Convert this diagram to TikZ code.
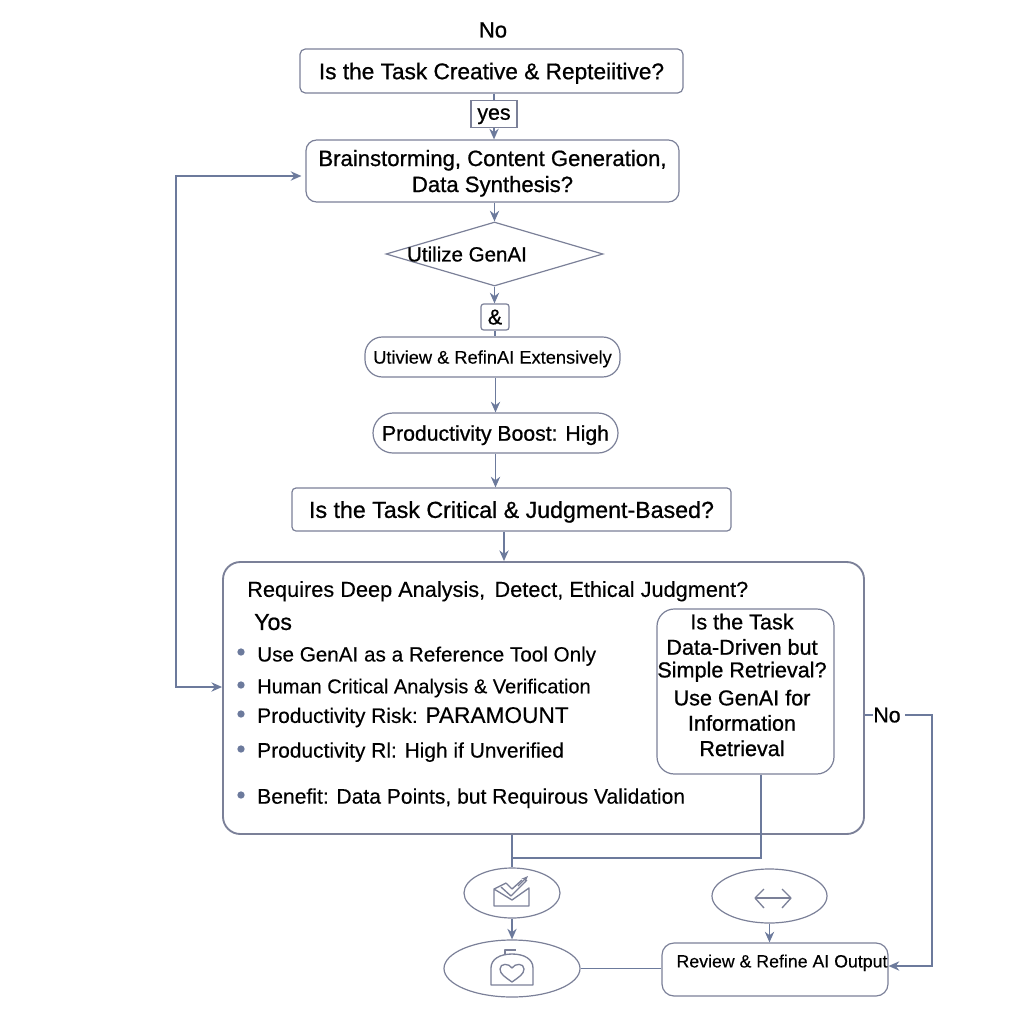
\documentclass[tikz,border=0pt]{standalone}
\usepackage{fontspec}
\setmainfont[FakeBold=0.25]{Liberation Sans}
\newfontfamily\medfont[FakeBold=0.8]{Liberation Sans}
\usetikzlibrary{arrows.meta,shapes.geometric}
\newcommand{\px}{0.75pt}
\definecolor{linecol}{HTML}{6C7A9C}
\definecolor{boxcol}{HTML}{7B8098}
\tikzset{
  box/.style={draw=boxcol,line width=0.9pt,rounded corners=6pt,inner sep=0pt,align=center,text depth=0pt},
  tag/.style={draw=boxcol,line width=0.9pt,inner sep=0pt,text depth=0pt},
  pill/.style={box,rounded corners=11pt},
  oval/.style={draw=boxcol,line width=0.9pt,ellipse,inner sep=0pt},
  item/.style={anchor=west,inner sep=0pt,text depth=0pt,font=\fontsize{15.7}{18}\selectfont},
  dot/.style={circle,fill=linecol,inner sep=0pt,minimum size=5.5pt},
  icon/.style={draw=boxcol,line width=1pt,line join=round},
  link/.style={draw=linecol,line width=1.1pt}
}
\begin{document}
\begin{tikzpicture}[x=\px,y=-\px,>={Stealth[length=8pt,width=7pt]}]
\useasboundingbox (0,0) rectangle (1024,1024);

\node[inner sep=0pt,font=\medfont\fontsize{16.5}{19}\selectfont] (no1) at (493,30) {No};
\node[box,rounded corners=4pt,minimum width=383*\px,minimum height=44*\px,font=\medfont\fontsize{17}{19}\selectfont] (creative) at (491.5,71) {Is the Task Creative \& Repteiitive?};
\node[tag,minimum width=46*\px,minimum height=27*\px,font=\medfont\fontsize{16}{18}\selectfont] (yes) at (494,114) {yes};
\node[box,rounded corners=8pt,minimum width=373*\px,minimum height=62*\px,font=\medfont\fontsize{16.6}{19.5}\selectfont] (brain) at (492.5,171) {Brainstorming, Content Generation,\\Data Synthesis?};
\node[diamond,draw=boxcol,line width=0.9pt,aspect=3.4,minimum width=217*\px,minimum height=64*\px,inner sep=0pt] (utilize) at (494.5,254) {};
\node[inner sep=0pt,text depth=0pt,font=\medfont\fontsize{15.4}{18}\selectfont] (utilizetext) at (467,254) {Utilize GenAI};
\node[tag,rounded corners=2pt,minimum width=28*\px,minimum height=26*\px,font=\medfont\fontsize{16}{18}\selectfont] (amp) at (495,317) {\&};
\node[pill,rounded corners=13pt,minimum width=255*\px,minimum height=40*\px,font=\fontsize{13.7}{16}\selectfont] (review1) at (492.5,357) {Utiview \& RefinAI Extensively};
\node[pill,rounded corners=15pt,minimum width=245*\px,minimum height=40*\px,font=\medfont\fontsize{15.9}{18}\selectfont] (boost) at (495.5,433) {Productivity Boost: High};
\node[box,rounded corners=3pt,minimum width=439*\px,minimum height=43*\px,font=\medfont\fontsize{17.4}{19}\selectfont] (critical) at (511.5,509.5) {Is the Task Critical \& Judgment-Based?};

% big box
\node[box,rounded corners=13pt,line width=1.4pt,minimum width=641*\px,minimum height=272*\px] (main) at (543.5,698) {};
\node[item,font=\fontsize{16.3}{18}\selectfont] (head) at (247,589) {Requires Deep Analysis,\hspace{7pt}Detect, Ethical Judgment?};
\node[item,font=\medfont\fontsize{17.3}{18}\selectfont] (yos) at (254,622) {Yos};
\node[item,font=\fontsize{15.5}{18}\selectfont] (i1) at (257,654) {Use GenAI as a Reference Tool Only};
\node[item,font=\fontsize{15}{18}\selectfont] (i2) at (257,686) {Human Critical Analysis \& Verification};
\node[item] (i3) at (257,715) {Productivity Risk: {\fontsize{17}{18}\selectfont PARAMOUNT}};
\node[item] (i4) at (257,750) {Productivity Rl: High if Unverified};
\node[item,font=\fontsize{15.8}{18}\selectfont] (i5) at (257,796) {Benefit: Data Points, but Requirous Validation};
\foreach \n/\y in {a/652,b/685,c/714,d/749,e/795}
  \node[dot] (dot\n) at (241,\y) {};
\node[box,rounded corners=13pt,minimum width=177*\px,minimum height=165*\px] (retrieval) at (745.5,691.5) {};
\node[inner sep=0pt,align=center,font=\medfont\fontsize{16.2}{19}\selectfont] (retrievaltext) at (742,685) {Is the Task\\Data-Driven but\\[-2pt]Simple Retrieval?\\[2pt]Use GenAI for\\Information\\Retrieval};

% bottom row
\node[oval,minimum width=96*\px,minimum height=50*\px] (send) at (512,893) {};
\node[oval,minimum width=136*\px,minimum height=57*\px] (heart) at (512,968.5) {};
\node[oval,minimum width=115*\px,minimum height=54*\px] (swap) at (769.5,896) {};
\node[box,rounded corners=9pt,minimum width=226*\px,minimum height=53*\px] (refine) at (775,969.5) {};
\node[inner sep=0pt,text depth=0pt,font=\fontsize{13.3}{16}\selectfont] (refinetext) at (782,961) {Review \& Refine AI Output};
\node[inner sep=0pt,text depth=0pt,font=\medfont\fontsize{16}{18}\selectfont] (no2) at (887,715) {No};

\coordinate (mainleft) at (176,687);
\coordinate (brainleft) at (176,176);
\coordinate (joinx) at (512,858);
\coordinate (retrievalx) at (761,858);
\coordinate (critx) at (504,560);
\coordinate (noright) at (932,715);
\coordinate (refineright) at (932,966);

\draw[link] (creative.south -| yes) -- (yes.north);
\draw[link,->] (yes.south) -- (yes.south |- brain.north);
\draw[link,->] (brain.south -| utilize) -- (utilize.north);
\draw[link,->] (utilize.south) -- (utilize.south |- amp.north);
\draw[link] (amp.south) -- (amp.south |- review1.north);
\draw[link,->] (review1.south -| boost) -- (boost.north);
\draw[link,->] (boost.south) -- (boost.south |- critical.north);
\draw[link,->] (critx |- critical.south) -- (critx |- main.north);
\draw[link,<->] ([xshift=-3pt]brain.west |- brainleft) -- (brainleft) -- (mainleft) -- (main.west |- mainleft);
\draw[link] (retrievalx |- retrieval.south) -- (retrievalx) -- (joinx);
\draw[link] (joinx |- main.south) -- (send.north);
\draw[link,->] (send.south) -- (heart.north);
\draw[link,->] (swap.south) -- (swap.south |- refine.north);
\draw[link] (refine.west |- heart.east) -- (heart.east);
\draw[link] (main.east |- no2) -- (no2.west);
\draw[link,->] ([xshift=3pt]no2.east) -- (noright) -- (refineright) -- (refine.east |- refineright);

% icons
\draw[icon] (494,889) -- (494,906) -- (529,906) -- (529,888) -- (512,900) -- (494,889) -- (506,883);
\draw[icon] (501,887) -- (511,896) -- (527,880);
\draw[icon] (506,883) -- (512,889) -- (522,880);
\draw[icon,-{Stealth[length=5pt,width=4pt]}] (518,886) -- (528,876);
\draw[icon] (491,985) -- (491,968) .. controls (491,959) and (500,954) .. (512,954) .. controls (524,954) and (533,959) .. (533,968) -- (533,985) -- cycle;
\draw[icon] (505,954) -- (505,950) -- (516,950);
\draw[icon] (512,982) .. controls (505,977) and (500,974) .. (500,969) .. controls (500,963) and (509,963) .. (512,968) .. controls (515,963) and (524,963) .. (524,969) .. controls (524,974) and (519,977) .. (512,982) -- cycle;
\draw[icon] (755,898) -- (791,898);
\draw[icon] (764,889) -- (755,898) -- (764,908);
\draw[icon] (782,889) -- (791,898) -- (782,908);
\end{tikzpicture}
\end{document}
